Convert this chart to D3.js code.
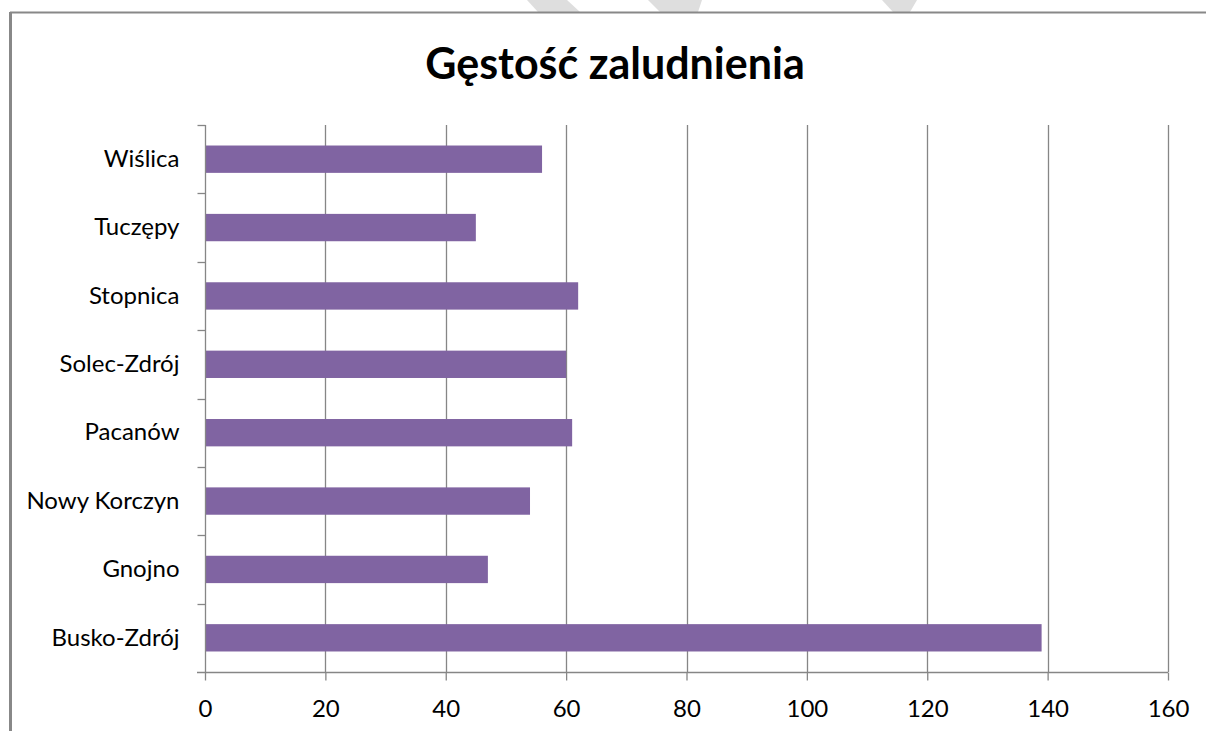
<!DOCTYPE html>
<html>
<head>
<meta charset="utf-8">
<script src="https://cdn.jsdelivr.net/npm/d3@7"></script>
<style>
  html, body { margin: 0; padding: 0; background: #fff; }
  svg { display: block; }
</style>
</head>
<body>
<svg id="chart" width="1206" height="731"></svg>
<script>
// ---- data ----
const title = "Gęstość zaludnienia";
const categories = ["Wiślica", "Tuczępy", "Stopnica", "Solec-Zdrój", "Pacanów", "Nowy Korczyn", "Gnojno", "Busko-Zdrój"];
const values = [56, 45, 62, 60, 61, 54, 47, 139];
const xTicks = [0, 20, 40, 60, 80, 100, 120, 140, 160];

// ---- layout ----
const W = 1206, H = 731;
const plot = { left: 205, right: 1168, top: 125, bottom: 672 };
const gridColor = "#868686";
const barColor = "#8064A2";
const font = "Lato, Carlito, Calibri, 'Open Sans', sans-serif";

const svg = d3.select("#chart");

// watermark fragments at top (decorative)
const wm = svg.append("g").attr("fill", "#dedede");
[[[527,0],[567,0],[580,12],[538,12]],
 [[648,0],[702,0],[698,12],[660,12]],
 [[882,0],[917,0],[910,12],[893,12]]].forEach(p => {
  wm.append("polygon").attr("points", p.map(d => d.join(",")).join(" "));
});

// chart frame (top and left edges visible)
svg.append("line").attr("x1", 10).attr("x2", W).attr("y1", 12.5).attr("y2", 12.5)
  .attr("stroke", "#888").attr("stroke-width", 2);
svg.append("line").attr("x1", 10.5).attr("x2", 10.5).attr("y1", 12).attr("y2", H)
  .attr("stroke", "#888").attr("stroke-width", 3);

// title
svg.append("text")
  .attr("x", 615).attr("y", 79)
  .attr("text-anchor", "middle")
  .attr("font-family", font)
  .attr("font-weight", "bold")
  .attr("font-size", 43)
  .attr("fill", "#000")
  .text(title);

// scales
const x = d3.scaleLinear().domain([0, 160]).range([plot.left, plot.right]);
const y = d3.scaleBand().domain(categories).range([plot.top, plot.bottom])
  .paddingInner(0.6).paddingOuter(0.3);
const step = y.step();

// vertical gridlines
svg.append("g").selectAll("line").data(xTicks.filter(d => d > 0)).join("line")
  .attr("x1", d => Math.round(x(d)) + 0.5).attr("x2", d => Math.round(x(d)) + 0.5)
  .attr("y1", plot.top).attr("y2", plot.bottom)
  .attr("stroke", gridColor).attr("stroke-width", 1.3);

// bars
svg.append("g").selectAll("rect").data(values).join("rect")
  .attr("x", x(0))
  .attr("y", (d, i) => y(categories[i]))
  .attr("width", d => x(d) - x(0))
  .attr("height", y.bandwidth())
  .attr("fill", barColor);

// bottom axis
const xAxis = d3.axisBottom(x).tickValues(xTicks).tickSize(8).tickPadding(19);
const gx = svg.append("g").attr("transform", `translate(0,${plot.bottom + 0.5})`).call(xAxis);
gx.select(".domain").remove();
gx.append("line").attr("x1", plot.left - 8).attr("x2", plot.right).attr("y1", 0).attr("y2", 0)
  .attr("stroke", gridColor).attr("stroke-width", 1.3);
gx.selectAll(".tick line").attr("stroke", gridColor).attr("stroke-width", 1.3);
gx.selectAll(".tick text")
  .attr("font-family", font).attr("font-size", 24).attr("fill", "#000");

// left axis
const yAxis = d3.axisLeft(y).tickSize(0).tickPadding(26);
const gy = svg.append("g").attr("transform", `translate(${plot.left + 0.5},0)`).call(yAxis);
gy.select(".domain").remove();
gy.append("line").attr("x1", 0).attr("x2", 0).attr("y1", plot.top).attr("y2", plot.bottom)
  .attr("stroke", gridColor).attr("stroke-width", 1.3);
// category boundary tick marks
gy.append("g").selectAll("line").data(categories).join("line")
  .attr("x1", -8).attr("x2", 0)
  .attr("y1", d => Math.round(y(d) - step * 0.3) + 0.5)
  .attr("y2", d => Math.round(y(d) - step * 0.3) + 0.5)
  .attr("stroke", gridColor).attr("stroke-width", 1.3);
gy.selectAll(".tick text")
  .attr("font-family", font).attr("font-size", 24).attr("fill", "#000");
</script>
</body>
</html>
